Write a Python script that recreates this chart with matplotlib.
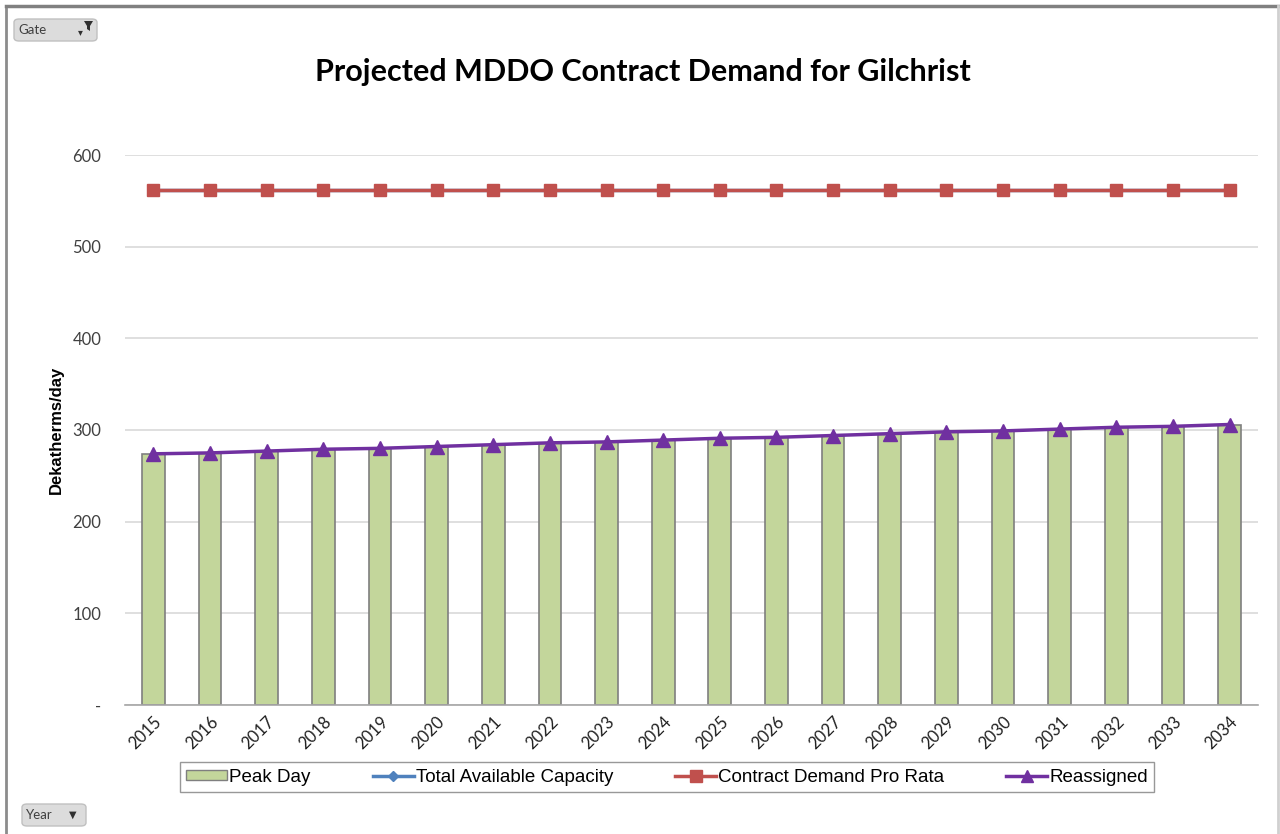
import numpy as np
import matplotlib
matplotlib.use("Agg")
import matplotlib.pyplot as plt
from matplotlib.patches import Rectangle, FancyBboxPatch, Polygon
from matplotlib.lines import Line2D

years = [str(y) for y in range(2015, 2035)]
peak_day = [274, 275, 277, 279, 280, 282, 284, 286, 287, 289,
            291, 292, 294, 296, 298, 299, 301, 303, 304, 306]
total_capacity = [562] * 20
contract_pro_rata = [562] * 20
reassigned = [274, 275, 277, 279, 280, 282, 284, 286, 287, 289,
              291, 292, 294, 296, 298, 299, 301, 303, 304, 306]
y_ticks = [0, 100, 200, 300, 400, 500, 600]
y_tick_labels = ["-", "100", "200", "300", "400", "500", "600"]

W, H = 1280, 834
fig = plt.figure(figsize=(12.8, 8.34), dpi=100)
ax = fig.add_axes([125 / W, 1 - 705 / H, (1258 - 125) / W, (705 - 155) / H])

x = np.arange(len(years))
ax.bar(x, peak_day, width=0.4, color="#C3D69B", edgecolor="#7F7F7F", linewidth=1.2, zorder=2)
ax.plot(x, total_capacity, color="#4F81BD", marker="D", markersize=5, linewidth=2.5, zorder=3)
ax.plot(x, contract_pro_rata, color="#C0504D", marker="s", markersize=9, linewidth=2.5, zorder=4)
ax.plot(x, reassigned, color="#7030A0", marker="^", markersize=10, linewidth=2.5, zorder=5)

ax.set_xlim(-0.5, len(years) - 0.5)
ax.set_ylim(0, 600)
ax.set_yticks(y_ticks)
ax.set_yticklabels(y_tick_labels, fontfamily="Lato", fontsize=12, color="#404040")
ax.set_xticks(x)
ax.set_xticklabels(years, rotation=45, ha="right", rotation_mode="anchor",
                   fontfamily="Lato", fontsize=12, color="#202020")
ax.grid(axis="y", color="#D9D9D9", linewidth=1.2, zorder=0)
for s in ["top", "right", "left"]:
    ax.spines[s].set_visible(False)
ax.spines["bottom"].set_color("#A6A6A6")
ax.spines["bottom"].set_linewidth(1.2)
ax.tick_params(axis="both", length=0)
ax.tick_params(axis="y", pad=17)
ax.tick_params(axis="x", pad=6)

ax.set_ylabel("Dekatherms/day", fontfamily="Liberation Sans", fontweight="bold", fontsize=12, labelpad=6)

fig.text(643 / W, 1 - 72 / H, "Projected MDDO Contract Demand for Gilchrist",
         ha="center", va="center", fontfamily="Lato", fontweight="bold", fontsize=22)

# legend
handles = [
    Rectangle((0, 0), 1, 1, facecolor="#C3D69B", edgecolor="#7F7F7F"),
    Line2D([], [], color="#4F81BD", marker="D", markersize=5, linewidth=2.5),
    Line2D([], [], color="#C0504D", marker="s", markersize=8, linewidth=2.5),
    Line2D([], [], color="#7030A0", marker="^", markersize=8, linewidth=2.5),
]
labels = ["Peak Day", "Total Available Capacity", "Contract Demand Pro Rata", "Reassigned"]
leg = fig.legend(handles, labels, loc="center", bbox_to_anchor=(667 / W, 1 - 777 / H),
                 ncol=4, frameon=True, fancybox=False, edgecolor="#7F7F7F",
                 prop={"family": "Liberation Sans", "size": 13.5},
                 handlelength=2.2, handleheight=0.5, handletextpad=0.1, columnspacing=3.3,
                 borderpad=0.35, borderaxespad=0)
leg.get_frame().set_linewidth(1.0)

# outer frame (top, left, right)
fig.add_artist(Line2D([6 / W, 6 / W], [0, 1 - 6 / H], transform=fig.transFigure, color="#8C8C8C", linewidth=2))
fig.add_artist(Line2D([6 / W, 1278 / W], [1 - 6 / H, 1 - 6 / H], transform=fig.transFigure, color="#808080", linewidth=2.5))
fig.add_artist(Line2D([1278 / W, 1278 / W], [0, 1 - 6 / H], transform=fig.transFigure, color="#D0D0D0", linewidth=2))

# field buttons
def button(x0, y0, w, h, text):
    fig.patches.append(FancyBboxPatch((x0 / W, 1 - (y0 + h) / H), w / W, h / H,
                                      boxstyle="round,pad=0,rounding_size=0.004",
                                      transform=fig.transFigure, facecolor="#DCDCDC",
                                      edgecolor="#C0C0C0", linewidth=1))
    fig.text((x0 + 4) / W, 1 - (y0 + h / 2) / H, text, ha="left", va="center",
             fontfamily="Lato", fontsize=9.5, color="#404040")

button(14, 19, 83, 22, "Gate")
fig.text(80 / W, 1 - 32 / H, "\u25be", ha="center", va="center",
         fontfamily="DejaVu Sans", fontsize=7, color="#303030")
# small funnel (filter) icon
fig.patches.append(Polygon([(84 / W, 1 - 21 / H), (93 / W, 1 - 21 / H), (90 / W, 1 - 26 / H),
                            (90 / W, 1 - 31 / H), (87 / W, 1 - 29 / H), (87 / W, 1 - 26 / H)],
                           closed=True, transform=fig.transFigure, facecolor="#303030",
                           edgecolor="none"))
button(22, 804, 64, 22, "Year")
fig.text(73 / W, 1 - 815 / H, "\u25bc", ha="center", va="center",
         fontfamily="DejaVu Sans", fontsize=7, color="#303030")

fig.savefig("out.png", dpi=100, facecolor="white")
